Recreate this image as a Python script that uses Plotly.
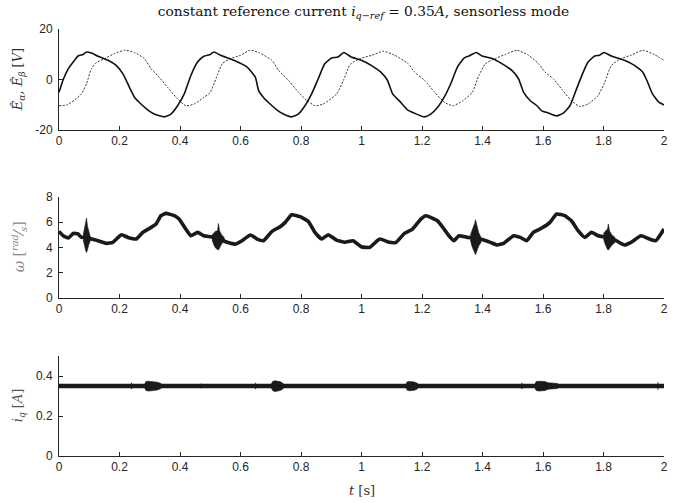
import plotly.graph_objects as go

# ---------------- data ----------------
t_alpha = [0, 0.014, 0.031, 0.047, 0.063, 0.08, 0.091, 0.107, 0.129, 0.162,
           0.189, 0.211, 0.233, 0.25, 0.271, 0.293, 0.315, 0.348, 0.37, 0.392,
           0.414, 0.436, 0.458, 0.479, 0.50, 0.512, 0.534, 0.578, 0.622, 0.649,
           0.66, 0.676, 0.698, 0.72, 0.742, 0.769, 0.791, 0.813, 0.835, 0.857,
           0.879, 0.901, 0.922, 0.942, 0.966, 0.999, 1.032, 1.064, 1.086, 1.103,
           1.13, 1.152, 1.174, 1.207, 1.229, 1.251, 1.273, 1.295, 1.317, 1.339,
           1.355, 1.379, 1.399, 1.432, 1.464, 1.497, 1.519, 1.536, 1.558, 1.58,
           1.596, 1.618, 1.645, 1.667, 1.689, 1.711, 1.733, 1.749, 1.771, 1.787,
           1.801, 1.826, 1.869, 1.902, 1.93, 1.946, 1.962, 1.984, 2.0]
E_alpha = [-5.1, 0, 4.3, 6.9, 9.3, 9.9, 10.9, 10.5, 9.2, 7.6,
           5.6, 2.3, -3.1, -7.1, -9.7, -12, -13.7, -14.8, -13.7, -10.4,
           -5.7, 1.6, 6.9, 9.2, 9.9, 10.9, 9.6, 7.6, 4.9, 0.9,
           -4.4, -7.1, -9.7, -12, -13.7, -14.8, -13.7, -10.4, -5.7, 0.3,
           6.3, 8.5, 8.9, 10.7, 8.9, 7.6, 5.6, 2.9, -0.4, -5.7,
           -9.1, -12, -13.3, -14.8, -13.7, -11.1, -7.1, -1.7, 4.9, 8.5,
           9.3, 10.7, 9.3, 8.3, 6.3, 3.6, 0.3, -5.1, -8.4, -10.4,
           -12.4, -13.3, -14.4, -13.3, -10.4, -3.7, 2.9, 6.9, 9.3, 9.6,
           10.7, 9.3, 7.6, 5.6, 2.9, -1.1, -5.7, -9.1, -10.1]

t_beta = [0, 0.025, 0.053, 0.074, 0.091, 0.107, 0.124, 0.151, 0.184, 0.217,
          0.25, 0.282, 0.304, 0.326, 0.359, 0.392, 0.419, 0.447, 0.479, 0.50,
          0.523, 0.54, 0.567, 0.6, 0.632,
          0.66, 0.704, 0.726, 0.759, 0.792, 0.82, 0.847, 0.874, 0.918, 0.94,
          0.962, 0.99, 1.034, 1.072, 1.11, 1.154, 1.176, 1.209, 1.242, 1.275,
          1.302,
          1.333, 1.366, 1.388, 1.41, 1.442, 1.475, 1.514, 1.552, 1.585, 1.607,
          1.634, 1.661, 1.694, 1.722, 1.749, 1.782, 1.804, 1.826, 1.859, 1.891,
          1.93, 1.968, 2.0]
E_beta = [-10.4, -10.1, -8, -5.7, -1.7, 4.3, 6.7, 8.3, 10.3, 11.6,
          10.7, 8.3, 4.3, 1.6, -3.1, -7.7, -10.4, -9.7, -7.1, -5.1,
          1.6, 6.3, 8.3, 9.6, 11.6,
          10.7, 7.6, 3.6, -0.4, -5.1, -8.4, -10.4, -9.7, -5.7, -0.4,
          5.9, 8, 9.6, 11.2, 9.6, 6.3, 2.9, -0.4, -5.1, -9.1,
          -10.4,
          -8.6, -5.1, 1.6, 6.3, 8.3, 9.9, 11.6, 9.6, 6.3, 2.9,
          0.3, -3.7, -8.4, -10.7, -9.7, -6.4, -1.1, 5.6, 8.3, 9.6,
          11.6, 9.9, 7.6]

t_omega = [0, 0.014, 0.031, 0.047, 0.063, 0.074, 0.09, 0.107, 0.129, 0.157,
           0.178, 0.206, 0.228, 0.255, 0.277, 0.299, 0.321, 0.337, 0.354, 0.381,
           0.397, 0.419, 0.436, 0.458, 0.479, 0.5, 0.523, 0.556, 0.583, 0.605,
           0.633, 0.655, 0.676, 0.704, 0.731, 0.748, 0.769, 0.797, 0.824, 0.846,
           0.868, 0.89, 0.917, 0.945, 0.972, 0.999, 1.027, 1.06, 1.092, 1.114,
           1.142, 1.169, 1.196, 1.213, 1.251, 1.273, 1.289, 1.306, 1.322, 1.35,
           1.377, 1.404, 1.426, 1.448, 1.47, 1.503, 1.525, 1.546, 1.568, 1.596,
           1.623, 1.645, 1.672, 1.694, 1.716, 1.738, 1.76, 1.782, 1.815, 1.842,
           1.869, 1.891, 1.924, 1.952, 1.973, 2.0]
omega = [5.28, 4.93, 4.75, 5.12, 5.07, 4.8, 4.85, 4.67, 4.54, 4.33,
         4.41, 5.01, 4.8, 4.67, 5.2, 5.51, 5.86, 6.52, 6.7, 6.52,
         6.25, 5.46, 4.93, 5.2, 4.93, 4.85, 4.75, 4.41, 4.27, 4.54,
         4.99, 4.67, 4.54, 5.28, 5.65, 5.99, 6.6, 6.44, 6.07, 5.2,
         4.67, 5.01, 4.59, 4.41, 4.54, 4.06, 4.01, 4.67, 4.41, 4.41,
         5.12, 5.46, 6.25, 6.52, 6.12, 5.46, 4.93, 4.54, 4.93, 4.8,
         4.75, 4.59, 4.41, 4.2, 4.33, 4.93, 4.8, 4.54, 5.2, 5.54,
         5.99, 6.65, 6.52, 6.12, 5.33, 4.8, 5.2, 4.93, 4.8, 4.54,
         4.2, 4.41, 4.93, 4.67, 4.54, 5.46]

# envelopes of the oscillation bursts in omega
omega_burst_t = [[0.080, 0.084, 0.087, 0.089, 0.091, 0.094, 0.098, 0.103],
                 [0.506, 0.512, 0.518, 0.524, 0.527, 0.531, 0.538, 0.546],
                 [1.360, 1.365, 1.370, 1.374, 1.377, 1.381, 1.387, 1.395],
                 [1.800, 1.805, 1.810, 1.813, 1.816, 1.820, 1.828, 1.838]]
omega_burst_hi = [[5.0, 5.5, 5.7, 6.0, 6.33, 5.7, 5.3, 4.9],
                  [5.0, 5.2, 5.3, 5.3, 5.9, 5.3, 5.0, 4.8],
                  [5.0, 5.3, 5.6, 5.9, 6.2, 5.7, 5.2, 4.8],
                  [5.1, 5.3, 5.4, 5.4, 5.86, 5.3, 5.0, 4.8]]
omega_burst_lo = [[4.6, 4.1, 3.9, 3.7, 3.6, 3.8, 4.2, 4.5],
                  [4.6, 4.2, 3.95, 3.85, 3.8, 4.0, 4.3, 4.5],
                  [4.6, 4.1, 3.8, 3.6, 3.43, 3.7, 4.1, 4.4],
                  [4.7, 4.3, 4.0, 3.85, 3.8, 3.95, 4.2, 4.4]]

t_iq = [0, 2]
iq = [0.35, 0.35]
iq_burst_t = [[0.283, 0.287, 0.295, 0.305, 0.315, 0.325, 0.335, 0.342],
              [0.702, 0.706, 0.714, 0.722, 0.730, 0.738, 0.744],
              [1.147, 1.151, 1.159, 1.167, 1.175, 1.183, 1.189],
              [1.573, 1.577, 1.587, 1.597, 1.607, 1.617, 1.627, 1.637, 1.647, 1.653]]
iq_burst_hi = [[0.358, 0.372, 0.374, 0.373, 0.372, 0.369, 0.364, 0.356],
               [0.360, 0.373, 0.376, 0.375, 0.372, 0.366, 0.357],
               [0.358, 0.371, 0.373, 0.372, 0.370, 0.365, 0.357],
               [0.358, 0.372, 0.374, 0.374, 0.372, 0.366, 0.366, 0.364, 0.362, 0.356]]
iq_burst_lo = [[0.342, 0.328, 0.325, 0.326, 0.327, 0.330, 0.336, 0.344],
               [0.340, 0.327, 0.322, 0.324, 0.327, 0.333, 0.343],
               [0.342, 0.329, 0.326, 0.327, 0.329, 0.334, 0.343],
               [0.342, 0.328, 0.325, 0.325, 0.327, 0.334, 0.334, 0.336, 0.338, 0.344]]
iq_spike_t = [0.03, 0.06, 0.08, 0.12, 0.20, 0.24, 0.36, 0.39, 0.44, 0.47, 0.50,
              0.53, 0.65, 0.79, 0.83, 0.91, 1.00, 1.28, 1.33, 1.43, 1.47, 1.53,
              1.69, 1.72, 1.78, 1.83, 1.87, 1.92, 1.98]
iq_spike_h = [0.010, 0.008, 0.010, 0.008, 0.010, 0.016, 0.010, 0.010, 0.008, 0.012,
              0.010, 0.010, 0.016, 0.010, 0.008, 0.010, 0.010, 0.008, 0.010, 0.010,
              0.010, 0.016, 0.010, 0.008, 0.010, 0.010, 0.008, 0.010, 0.018]

x_ticks = [0, 0.2, 0.4, 0.6, 0.8, 1, 1.2, 1.4, 1.6, 1.8, 2]
y1_ticks = [-20, 0, 20]
y2_ticks = [0, 2, 4, 6, 8]
y3_ticks = [0, 0.2, 0.4]

# ---------------- figure ----------------
W, H = 673, 503
L, R, T, B = 59, 5, 29, 47
ph = H - T - B  # 427
pw = W - L - R

def dom(top_px, bot_px):
    return [(H - B - bot_px) / ph, (H - B - top_px) / ph]

AX = "#262626"
INK = "#111111"

fig = go.Figure()

fig.add_trace(go.Scatter(x=t_beta, y=E_beta, mode="lines",
                         line=dict(color="#333333", width=1, dash="2px,1.5px",
                                   shape="spline", smoothing=0.5),
                         xaxis="x", yaxis="y", showlegend=False))
fig.add_trace(go.Scatter(x=t_alpha, y=E_alpha, mode="lines",
                         line=dict(color=INK, width=1.6, shape="spline", smoothing=0.5),
                         xaxis="x", yaxis="y", showlegend=False))

fig.add_trace(go.Scatter(x=t_omega, y=omega, mode="lines",
                         line=dict(color="#1a1a1a", width=3.6, shape="spline", smoothing=0.4),
                         xaxis="x2", yaxis="y2", showlegend=False))
bx, by = [], []
for ts, hi, lo in zip(omega_burst_t, omega_burst_hi, omega_burst_lo):
    bx += ts + ts[::-1] + [None]
    by += hi + lo[::-1] + [None]
fig.add_trace(go.Scatter(x=bx, y=by, mode="lines", fill="toself",
                         fillcolor="#1a1a1a", line=dict(color="#1a1a1a", width=0.6),
                         xaxis="x2", yaxis="y2", showlegend=False))

fig.add_trace(go.Scatter(x=t_iq, y=iq, mode="lines",
                         line=dict(color="#1a1a1a", width=4.5),
                         xaxis="x3", yaxis="y3", showlegend=False))
sx, sy = [], []
for ts, h in zip(iq_spike_t, iq_spike_h):
    sx += [ts, ts, None]
    sy += [0.35 - h, 0.35 + h, None]
fig.add_trace(go.Scatter(x=sx, y=sy, mode="lines",
                         line=dict(color="#1a1a1a", width=1),
                         xaxis="x3", yaxis="y3", showlegend=False))
bx, by = [], []
for ts, hi, lo in zip(iq_burst_t, iq_burst_hi, iq_burst_lo):
    bx += ts + ts[::-1] + [None]
    by += hi + lo[::-1] + [None]
fig.add_trace(go.Scatter(x=bx, y=by, mode="lines", fill="toself",
                         fillcolor="#1a1a1a", line=dict(color="#1a1a1a", width=0.6),
                         xaxis="x3", yaxis="y3", showlegend=False))

tickfont = dict(family="Liberation Sans", size=12, color=AX)
xcommon = dict(range=[0, 2], tickvals=x_ticks, ticktext=[f"{v:g}" for v in x_ticks],
               showline=True, linecolor=AX, linewidth=1, ticks="inside",
               ticklen=4, tickcolor=AX, tickwidth=1, showgrid=False,
               zeroline=False, tickfont=tickfont, mirror=False)
ycommon = dict(showline=True, linecolor=AX, linewidth=1, ticks="inside",
               ticklen=4, tickcolor=AX, tickwidth=1, showgrid=False,
               zeroline=False, tickfont=tickfont, mirror=False,
               ticklabelstandoff=3)

fig.update_layout(
    width=W, height=H,
    margin=dict(l=L, r=R, t=T, b=B, pad=0),
    paper_bgcolor="white", plot_bgcolor="white",
    xaxis=dict(domain=[0, 1], anchor="y", **xcommon),
    yaxis=dict(domain=dom(29, 130), anchor="x", range=[-20, 20],
               tickvals=y1_ticks, ticktext=["-20", "0", "20"], **ycommon),
    xaxis2=dict(domain=[0, 1], anchor="y2", **xcommon),
    yaxis2=dict(domain=dom(197, 298), anchor="x2", range=[0, 8],
                tickvals=y2_ticks, **ycommon),
    xaxis3=dict(domain=[0, 1], anchor="y3", **xcommon),
    yaxis3=dict(domain=dom(356, 456), anchor="x3", range=[0, 0.5],
                tickvals=y3_ticks, ticktext=["0", "0.2", "0.4"], **ycommon),
    title=dict(text="constant reference current <i>i</i><sub><i>q−ref</i></sub> = 0.35<i>A</i>, sensorless mode",
               x=363.5 / W, xanchor="center", xref="container",
               y=1 - 11 / H, yanchor="middle", yref="container",
               font=dict(family="DejaVu Serif", size=13.8, color="#111111")),
)

serif = "DejaVu Serif"

def px_x(p):
    return (p - L) / pw

def px_y(p):
    return (H - B - p) / ph

fig.add_annotation(text="<i>Ê<sub>α</sub></i>, <i>Ê<sub>β</sub></i> [<i>V</i>]",
                   x=px_x(18), y=px_y(80), xref="paper", yref="paper",
                   textangle=-90, showarrow=False, xanchor="center", yanchor="middle",
                   font=dict(family=serif, size=13, color="#333333"))
fig.add_annotation(text="<i>ω</i> [<sup><i>rad</i></sup>⁄<sub><i>s</i></sub>]",
                   x=px_x(19), y=px_y(247), xref="paper", yref="paper",
                   textangle=-90, showarrow=False, xanchor="center", yanchor="middle",
                   font=dict(family=serif, size=14, color="#888888"))
fig.add_annotation(text="<i>i<sub>q</sub></i> [<i>A</i>]",
                   x=px_x(18), y=px_y(405), xref="paper", yref="paper",
                   textangle=-90, showarrow=False, xanchor="center", yanchor="middle",
                   font=dict(family=serif, size=13, color="#555555"))
fig.add_annotation(text="<i>t</i> [s]",
                   x=px_x(363.5), y=px_y(490), xref="paper", yref="paper",
                   showarrow=False, xanchor="center", yanchor="middle",
                   font=dict(family=serif, size=13, color="#333333"))

fig.write_html("out.html")
